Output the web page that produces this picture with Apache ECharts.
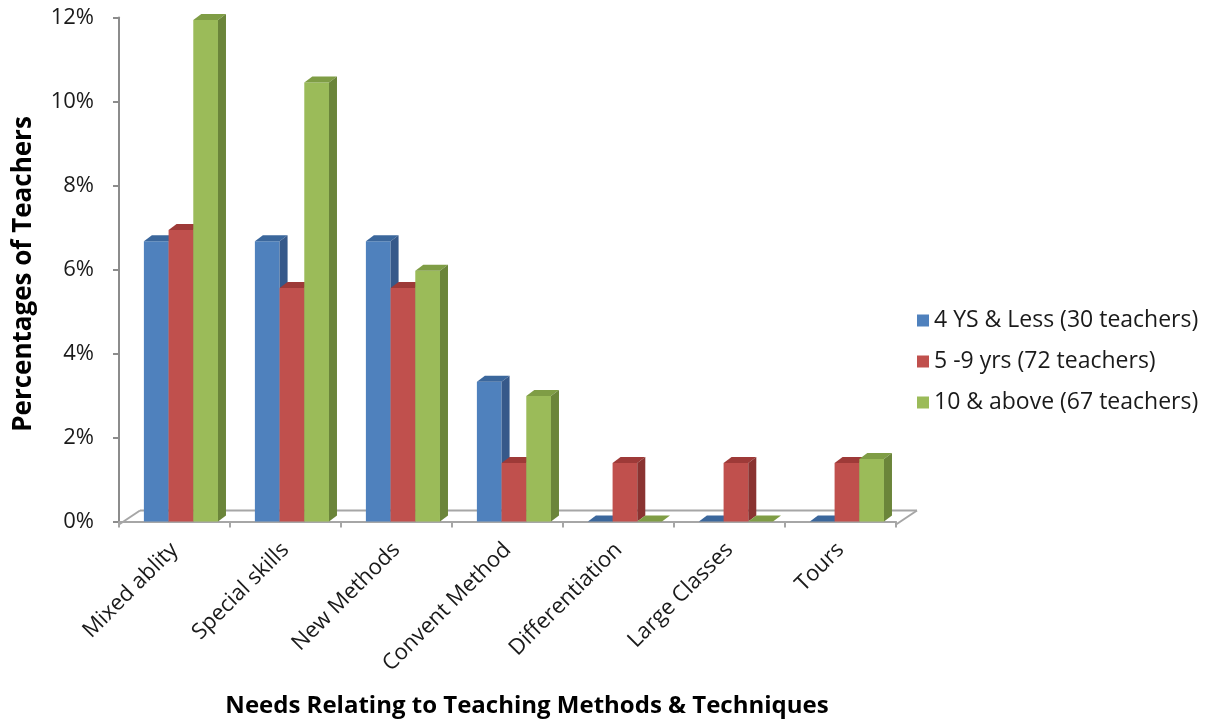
<!DOCTYPE html>
<html>
<head>
<meta charset="utf-8">
<title>Needs Relating to Teaching Methods &amp; Techniques</title>
<script src="https://cdn.jsdelivr.net/npm/echarts@6/dist/echarts.min.js"></script>
<style>
  html, body { margin: 0; padding: 0; background: #ffffff; }
  #chart { width: 1209px; height: 719px; }
</style>
</head>
<body>
<div id="chart"></div>
<script>
// Categories of need (x axis)
const categories = ['Mixed ablity', 'Special skills', 'New Methods', 'Convent Method',
                    'Differentiation', 'Large Classes', 'Tours'];

// Teaching-experience groups (legend)
const groupNames = ['4 YS & Less (30 teachers)', '5 -9 yrs (72 teachers)', '10 & above (67 teachers)'];

// Percentage of teachers in each group naming the need
const lessThan5Years = [6.67, 6.67, 6.67, 3.33, 0, 0, 0];
const from5To9Years  = [6.94, 5.56, 5.56, 1.39, 1.39, 1.39, 1.39];
const tenAndAbove    = [11.94, 10.45, 5.97, 2.99, 0, 0, 1.49];

// Value axis range and step (percent)
const yMin = 0;
const yMax = 12;
const yStep = 2;

const FONT = 'Open Sans';

// face colours per group: front, top, side
const palette = [
  { front: '#4F81BD', top: '#3B679C', side: '#36598A' },
  { front: '#C0504D', top: '#9E3A38', side: '#8A3331' },
  { front: '#9BBB59', top: '#7F9D45', side: '#6B853A' }
];

// pseudo-3D depth of each column (px)
const DEPTH_X = 8, DEPTH_Y = -6;

function columnRenderer(groupIndex) {
  const c = palette[groupIndex];
  return function (params, api) {
    const cat = api.value(0);
    const val = api.value(1);
    const base = api.coord([cat, 0]);
    const top = api.coord([cat, val]);
    const bw = api.size([1, 0])[0];
    const w = bw * 0.2225;
    const shift = bw * 0.058;
    const x0 = base[0] + shift + (groupIndex - 1.5) * w;
    const x1 = x0 + w;
    const yb = base[1];
    const yt = top[1];
    return {
      type: 'group',
      children: [
        { type: 'rect', shape: { x: x0, y: yt, width: w, height: Math.max(0, yb - yt) },
          style: { fill: c.front } },
        { type: 'polygon', shape: { points: [[x0, yt], [x1, yt], [x1 + DEPTH_X, yt + DEPTH_Y], [x0 + DEPTH_X, yt + DEPTH_Y]] },
          style: { fill: c.top } },
        { type: 'polygon', shape: { points: [[x1, yt], [x1 + DEPTH_X, yt + DEPTH_Y], [x1 + DEPTH_X, yb + DEPTH_Y], [x1, yb]] },
          style: { fill: c.side } }
      ]
    };
  };
}

// floor of the plot: back edge and the two slanted side edges
function floorRenderer(params, api) {
  const first = api.coord([0, 0]);
  const last = api.coord([categories.length - 1, 0]);
  const bw = api.size([1, 0])[0];
  const xl = first[0] - bw / 2;
  const xr = last[0] + bw / 2;
  const yf = first[1] + 3;
  const dx = 21, dy = -14;
  const edge = { stroke: '#A6A6A6', lineWidth: 2 };
  return {
    type: 'group',
    children: [
      { type: 'line', z2: 1, shape: { x1: xl + dx, y1: yf + dy, x2: xr + dx, y2: yf + dy }, style: edge },
      { type: 'line', z2: 1, shape: { x1: xl, y1: yf, x2: xl + dx, y2: yf + dy }, style: edge },
      { type: 'line', z2: 1, shape: { x1: xr, y1: yf, x2: xr + dx, y2: yf + dy }, style: edge }
    ]
  };
}

const groupValues = [lessThan5Years, from5To9Years, tenAndAbove];

const columnSeries = groupValues.map(function (values, gi) {
  return {
    name: groupNames[gi],
    type: 'custom',
    z: 3 + gi,
    renderItem: columnRenderer(gi),
    itemStyle: { color: palette[gi].front },
    encode: { x: 0, y: 1 },
    data: values.map(function (v, i) { return [i, v]; }),
    animation: false
  };
});

const chart = echarts.init(document.getElementById('chart'), null, { renderer: 'canvas' });

chart.setOption({
  backgroundColor: '#ffffff',
  animation: false,
  textStyle: { fontFamily: FONT },
  grid: { left: 119, right: 313, top: 17.5, bottom: 197.5, containLabel: false },
  legend: {
    orient: 'vertical',
    left: 912,
    top: 303,
    itemWidth: 12,
    itemHeight: 12,
    itemGap: 16,
    icon: 'rect',
    data: groupNames,
    selectedMode: false,
    textStyle: { fontFamily: FONT, fontSize: 23, color: '#1a1a1a', lineHeight: 25 }
  },
  xAxis: {
    type: 'category',
    data: categories,
    offset: 3,
    axisLine: { show: true, lineStyle: { color: '#A6A6A6', width: 2 } },
    axisTick: { show: true, length: 6, lineStyle: { color: '#A6A6A6', width: 2 } },
    axisLabel: {
      interval: 0,
      rotate: 45,
      margin: 22,
      padding: [25, 0, 0, 0],
      fontFamily: FONT,
      fontSize: 22,
      color: '#1a1a1a'
    },
    splitLine: { show: false }
  },
  yAxis: {
    type: 'value',
    min: yMin,
    max: yMax,
    interval: yStep,
    axisLine: { show: true, lineStyle: { color: '#8C8C8C', width: 2 } },
    axisTick: { show: true, length: 6, lineStyle: { color: '#8C8C8C', width: 2 } },
    axisLabel: {
      margin: 25,
      fontFamily: FONT,
      fontSize: 22,
      color: '#1a1a1a',
      formatter: '{value}%'
    },
    splitLine: { show: false }
  },
  graphic: [
    {
      type: 'text',
      x: 24, y: 274,
      rotation: Math.PI / 2,
      style: {
        text: 'Percentages of Teachers',
        fontFamily: FONT, fontSize: 26, fontWeight: 'bold', fill: '#000000',
        align: 'center', verticalAlign: 'middle'
      }
    },
    {
      type: 'text',
      x: 527, y: 706,
      style: {
        text: 'Needs Relating to Teaching Methods & Techniques',
        fontFamily: FONT, fontSize: 24, fontWeight: 'bold', fill: '#000000',
        align: 'center', verticalAlign: 'middle'
      }
    }
  ],
  series: [
    {
      name: 'floor',
      type: 'custom',
      z: 1,
      silent: true,
      renderItem: floorRenderer,
      encode: { x: 0, y: 1 },
      data: [[0, 0]],
      animation: false
    }
  ].concat(columnSeries)
});
</script>
</body>
</html>
